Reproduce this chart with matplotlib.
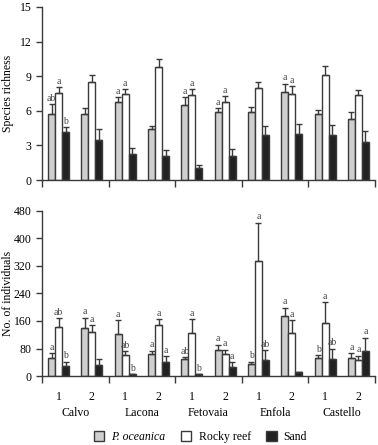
import matplotlib
matplotlib.use("Agg")
import matplotlib.pyplot as plt
from matplotlib.patches import Patch
import numpy as np

plt.rcParams['font.family'] = ['Liberation Serif', 'DejaVu Serif']

#------------------------------------------------------------------------
#                               Data
#------------------------------------------------------------------------
sites = ['Calvo', 'Lacona', 'Fetovaia', 'Enfola', 'Castello']
sub_labels = ['1', '2'] * 5

# species richness (mean, upper error bar top)
rich_pos = [5.74, 5.74, 6.75, 4.43, 6.46, 5.86, 5.86, 7.65, 5.68, 5.25]
rich_pos_err = [0.86, 0.46, 0.44, 0.24, 0.70, 0.40, 0.44, 0.70, 0.41, 0.65]
rich_rock = [7.54, 8.5, 7.45, 9.8, 7.39, 6.78, 7.94, 7.48, 9.13, 7.39]
rich_rock_err = [0.52, 0.57, 0.43, 0.70, 0.51, 0.50, 0.52, 0.69, 0.77, 0.44]
rich_sand = [4.17, 3.5, 2.26, 2.1, 1.0, 2.06, 3.86, 4.0, 3.86, 3.3]
rich_sand_err = [0.43, 0.96, 0.55, 0.48, 0.28, 0.61, 0.81, 0.84, 0.89, 0.93]

# number of individuals
ind_pos = [51, 139, 122, 65, 49, 77, 36, 174, 51, 53]
ind_pos_err = [16, 31, 40, 9, 6, 14, 6, 25, 9, 14]
ind_rock = [142, 127, 61, 148, 126, 64, 334, 126, 153, 48]
ind_rock_err = [27, 20, 12, 18, 39, 13, 112, 36, 61, 11]
ind_sand = [28, 31, 5, 41, 6, 25, 46, 11, 49, 74]
ind_sand_err = [14, 18, 0, 16, 0, 15, 30, 0, 30, 37]

rich_letters = [
    ['ab', '', 'a', '', 'a', 'a', '', 'a', '', ''],
    ['a', '', 'a', '', 'a', 'a', '', 'a', '', ''],
    ['b', '', '', '', '', '', '', '', '', ''],
]
ind_letters = [
    ['a', 'a', 'a', 'a', 'ab', 'a', 'b', 'a', 'b', 'a'],
    ['ab', 'a', 'ab', 'a', 'a', 'a', 'a', 'a', 'a', 'a'],
    ['b', '', 'b', 'a', 'b', 'a', 'ab', '', 'ab', 'a'],
]

colors = ['#cfcfcf', 'white', '#222222']
edge = '#3a3a3a'
names = ['P. oceanica', 'Rocky reef', 'Sand']

#------------------------------------------------------------------------
#                               Plot
#------------------------------------------------------------------------
def draw_panel(ax, series, errs, letters, ymax, step, offset):
    x = np.arange(10) + 0.5
    w = 0.21
    for k in range(3):
        xs = x + (k - 1) * w
        yerr = [np.zeros(10), errs[k]]
        ax.bar(xs, series[k], w, color=colors[k], edgecolor=edge, linewidth=1.0, zorder=2)
        ax.errorbar(xs, series[k], yerr=yerr, fmt='none', ecolor=edge,
                    elinewidth=1.0, capsize=2.2, capthick=1.0, zorder=3)
        for i in range(10):
            if letters[k][i]:
                ax.text(xs[i], series[k][i] + errs[k][i] + offset, letters[k][i],
                        ha='center', va='bottom', fontsize=7, color='#444444')
    ax.set_xlim(0, 10)
    ax.set_ylim(0, ymax)
    ax.set_yticks(np.arange(0, ymax + 1, step))
    ax.set_xticks(np.arange(0, 11, 2))
    ax.set_xticklabels([])
    for s in ['top', 'right']:
        ax.spines[s].set_visible(False)
    for s in ['left', 'bottom']:
        ax.spines[s].set_color(edge)
        ax.spines[s].set_linewidth(1.0)
    ax.tick_params(axis='both', direction='out', color=edge, labelsize=8.5, length=4, width=1.0)
    ax.tick_params(axis='x', length=5)


fig = plt.figure(figsize=(3.78, 4.45), dpi=100)
ax1 = fig.add_axes([0.111, 0.5955, 0.881, 0.389])
ax2 = fig.add_axes([0.111, 0.155, 0.881, 0.371])

draw_panel(ax1, [rich_pos, rich_rock, rich_sand],
           [rich_pos_err, rich_rock_err, rich_sand_err], rich_letters, 15, 3, 0.1)
draw_panel(ax2, [ind_pos, ind_rock, ind_sand],
           [ind_pos_err, ind_rock_err, ind_sand_err], ind_letters, 480, 80, 4)

ax1.set_ylabel('Species richness', fontsize=8.5, labelpad=5)
ax2.set_ylabel('No. of individuals', fontsize=8.5, labelpad=2)
for ax in (ax1, ax2):
    ax.yaxis.set_label_coords(-0.085, 0.5)

# sub-site labels and site names
ax2.set_xticks(np.arange(10) + 0.5, minor=True)
ax2.set_xticklabels(sub_labels, minor=True)
ax2.tick_params(axis='x', which='minor', length=0, labelsize=8.5, pad=11)
for i, s in enumerate(sites):
    ax2.text(2 * i + 1, -0.225, s, transform=ax2.get_xaxis_transform(),
             ha='center', va='center', fontsize=8.5)

handles = [Patch(facecolor=c, edgecolor=edge, linewidth=1.0) for c in colors]
leg = fig.legend(handles, names, loc='center', bbox_to_anchor=(0.53, 0.017),
                 ncol=3, frameon=False, fontsize=8.5, handlelength=0.9,
                 handleheight=0.9, handletextpad=0.6, columnspacing=1.3)
leg.get_texts()[0].set_fontstyle('italic')

fig.savefig('out.png', dpi=100)
